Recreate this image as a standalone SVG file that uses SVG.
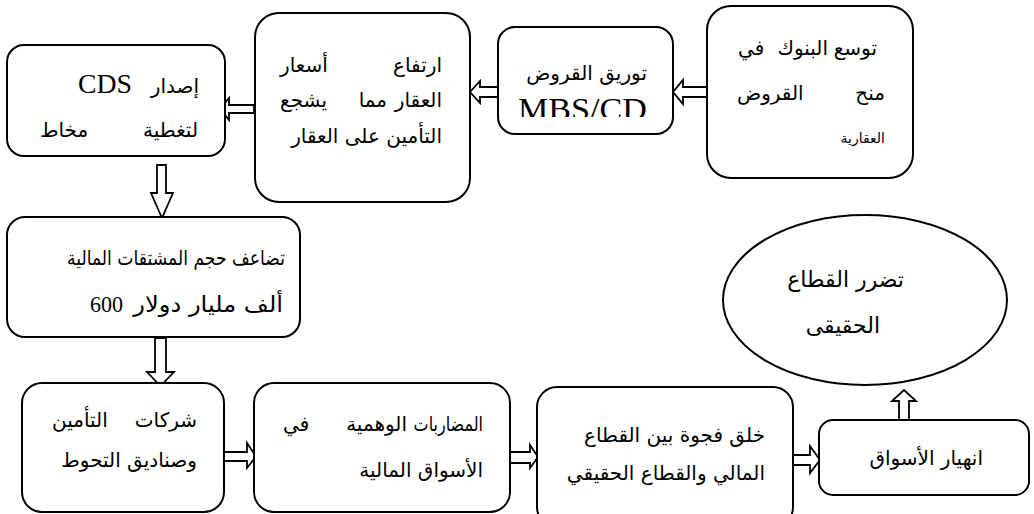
<svg xmlns="http://www.w3.org/2000/svg" width="1034" height="514" viewBox="0 0 1034 514">
<style>
.box{fill:#fff;stroke:#000;stroke-width:2}
.arr{fill:#fff;stroke:#000;stroke-width:1.8;stroke-linejoin:miter}
.ar{font-family:"DejaVu Sans",sans-serif;font-size:20px;fill:#000;text-anchor:end}
.st{text-anchor:start}
.sm{font-size:14px}
.lg{font-size:22px}
.lat{font-family:"Liberation Serif","Times New Roman",serif;fill:#000}
</style>
<defs>
<clipPath id="clipMBS"><rect x="490" y="90" width="200" height="27"/></clipPath>
</defs>
<rect width="1034" height="514" fill="#fff"/>

<g id="connectors">
<polygon class="arr" points="254,105 229,105 229,98 220,109 229,120 229,113 254,113"/>
<polygon class="arr" points="498,87 480,87 480,81 470,92 480,103 480,97 498,97"/>
<polygon class="arr" points="707,87 683,87 683,80 673,92 683,104 683,97 707,97"/>
<polygon class="arr" points="157,165 157,193 151,193 162,218 173,193 166,193 166,165"/>
<polygon class="arr" points="155,338 155,372 147,372 160.5,386 174,372 166,372 166,338"/>
<polygon class="arr" points="224,452 247,452 247,443 256,456.5 247,468 247,461 224,461"/>
<polygon class="arr" points="510,452 530,452 530,445 538,457 530,468 530,463 510,463"/>
<polygon class="arr" points="793,455 810,455 810,446 820,460 810,473 810,465 793,465"/>
<polygon class="arr" points="899,420 899,401 892,401 904,390 916,401 909,401 909,420"/>
</g>

<g id="n1">
<rect class="box" x="7" y="45" width="218" height="111" rx="17"/>
<text class="lat" x="78" y="93" font-size="27" textLength="54" lengthAdjust="spacingAndGlyphs">CDS</text>
<text class="ar" x="199" y="93">إصدار</text>
<text class="ar" x="198" y="137">لتغطية</text>
<text class="ar st" x="40" y="137">مخاط</text>
</g>

<g id="n2">
<rect class="box" x="255" y="13" width="215" height="189" rx="24"/>
<text class="ar" x="442" y="72">ارتفاع</text>
<text class="ar st" x="280" y="72">أسعار</text>
<text class="ar" x="442" y="107">العقار</text>
<text class="ar" x="387" y="107">مما</text>
<text class="ar st" x="280" y="107">يشجع</text>
<text class="ar" x="442" y="143">التأمين على العقار</text>
</g>

<g id="n3">
<rect class="box" x="498" y="27" width="175" height="107" rx="17"/>
<text class="ar" x="647" y="80">توريق القروض</text>
<text class="lat" x="518" y="120" font-size="31" textLength="129" lengthAdjust="spacingAndGlyphs" clip-path="url(#clipMBS)">MBS/CD</text>
</g>

<g id="n4">
<rect class="box" x="707" y="6" width="206" height="172" rx="24"/>
<text class="ar" x="877" y="55">توسع</text>
<text class="ar" x="828" y="55">البنوك</text>
<text class="ar st" x="738" y="55">في</text>
<text class="ar" x="885" y="100">منح</text>
<text class="ar st" x="737" y="100">القروض</text>
<text class="ar sm" x="885" y="143">العقارية</text>
</g>

<g id="n5">
<rect class="box" x="7" y="217" width="293" height="120" rx="18"/>
<text class="ar" font-size="20" transform="translate(285,265) scale(0.86,1)" x="0" y="0">تضاعف حجم المشتقات المالية</text>
<text class="lat" x="90" y="312" font-size="24" textLength="33" lengthAdjust="spacingAndGlyphs">600</text>
<text class="ar lg" transform="translate(283,312) scale(1.1,1)" x="0" y="0">ألف مليار دولار</text>
</g>

<g id="n6">
<ellipse class="box" cx="865" cy="300" rx="142" ry="85"/>
<text class="ar lg" x="904" y="287">تضرر القطاع</text>
<text class="ar lg" x="880" y="333">الحقيقى</text>
</g>

<g id="n7">
<rect class="box" x="22" y="383" width="202" height="129" rx="20"/>
<text class="ar" x="197" y="427">شركات</text>
<text class="ar st" x="52" y="427">التأمين</text>
<text class="ar" x="197" y="467">وصناديق التحوط</text>
</g>

<g id="n8">
<rect class="box" x="254" y="383" width="256" height="129" rx="20"/>
<text class="ar" transform="translate(483,431) scale(0.8,1)" x="0" y="0">المضاربات</text>
<text class="ar" x="407" y="431">الوهمية</text>
<text class="ar st" x="283" y="431">في</text>
<text class="ar" x="483" y="477">الأسواق المالية</text>
</g>

<g id="n9">
<rect class="box" x="537" y="387" width="256" height="140" rx="20"/>
<text class="ar" x="765" y="442">خلق فجوة بين القطاع</text>
<text class="ar" x="765" y="480">المالي والقطاع الحقيقي</text>
</g>

<g id="n10">
<rect class="box" x="819" y="420" width="210" height="75" rx="14"/>
<text class="ar" x="983" y="465">انهيار الأسواق</text>
</g>
</svg>
